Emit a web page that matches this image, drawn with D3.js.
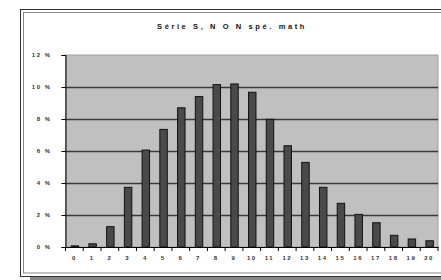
<!DOCTYPE html>
<html><head><meta charset="utf-8">
<script src="https://cdn.jsdelivr.net/npm/d3@7"></script>
<style>body{margin:0;background:#fff;}svg{display:block;font-family:"Liberation Sans",Arial,sans-serif;}</style>
</head><body>
<script>
const categories = ["0","1","2","3","4","5","6","7","8","9","10","11","12","13","14","15","16","17","18","19","20"];
const values = [0.07,0.2,1.27,3.73,6.06,7.35,8.7,9.4,10.15,10.19,9.67,7.98,6.33,5.29,3.73,2.73,2.04,1.52,0.73,0.5,0.39];
const yTicks = [0,2,4,6,8,10,12];
const title = "Série S, N O N spé. math";

const W = 441, H = 280;
const svg = d3.select("body").append("svg").attr("width", W).attr("height", H);

// frame shadow
svg.append("rect").attr("x",30).attr("y",277).attr("width",420).attr("height",4).attr("fill","#888");
// outer frame
svg.append("rect").attr("x",20.5).attr("y",9.5).attr("width",430).attr("height",267).attr("fill","#fff").attr("stroke","#333");
svg.append("rect").attr("x",23.5).attr("y",12.5).attr("width",425).attr("height",260.5).attr("fill","#fff").attr("stroke","#888");

const m = {left:65.5, right:438, top:55, bottom:247};
const x = d3.scaleBand().domain(categories).range([m.left, m.right]).paddingInner(0.58).paddingOuter(0.29);
const xb = d3.scaleBand().domain(categories).range([m.left, m.right]);
const y = d3.scaleLinear().domain([0,12]).range([m.bottom, m.top]);

svg.append("rect").attr("x",m.left).attr("y",m.top).attr("width",m.right-m.left).attr("height",m.bottom-m.top)
  .attr("fill","#c0c0c0").attr("stroke","#a0a0a0");

// gridlines
svg.append("g").selectAll("line").data(yTicks.filter(d=>d>0 && d<12)).join("line")
  .attr("x1",m.left).attr("x2",m.right).attr("y1",d=>Math.round(y(d))+0.5).attr("y2",d=>Math.round(y(d))+0.5)
  .attr("stroke","#3a3a3a").attr("stroke-width",1.3);

// bars
svg.append("g").selectAll("rect").data(values).join("rect")
  .attr("x",(d,i)=>x(categories[i])+0.5).attr("width",x.bandwidth())
  .attr("y",d=>y(d)).attr("height",d=>m.bottom-y(d))
  .attr("fill","#4a4a4a").attr("stroke","#111").attr("stroke-width",1);

// y axis
const ya = d3.axisLeft(y).tickValues(yTicks).tickSize(4).tickPadding(10).tickFormat(d=>d+" %");
const gy = svg.append("g").attr("transform",`translate(${m.left},0)`).call(ya);
gy.select(".domain").attr("stroke","#000");
gy.selectAll("line").attr("stroke","#000");
gy.selectAll("text").attr("font-size",6).attr("font-weight","bold").attr("fill","#333").style("letter-spacing","1.5px");

// x axis
const xa = d3.axisBottom(xb).tickSize(0).tickPadding(9);
const gx = svg.append("g").attr("transform",`translate(0,${m.bottom})`).call(xa);
gx.select(".domain").attr("stroke","#000");
gx.selectAll("text").attr("font-size",6).attr("font-weight","bold").attr("fill","#333").style("letter-spacing","1.5px");
// tick marks between categories
svg.append("g").selectAll("line").data(d3.range(categories.length+1)).join("line")
  .attr("x1",i=>m.left+i*xb.step()).attr("x2",i=>m.left+i*xb.step())
  .attr("y1",m.bottom).attr("y2",m.bottom+4).attr("stroke","#000");

// title
svg.append("text").attr("x",232).attr("y",29).attr("text-anchor","middle")
  .attr("font-size",7.5).attr("font-weight","bold").attr("fill","#111").style("letter-spacing","2.6px").text(title);
</script>
</body></html>
